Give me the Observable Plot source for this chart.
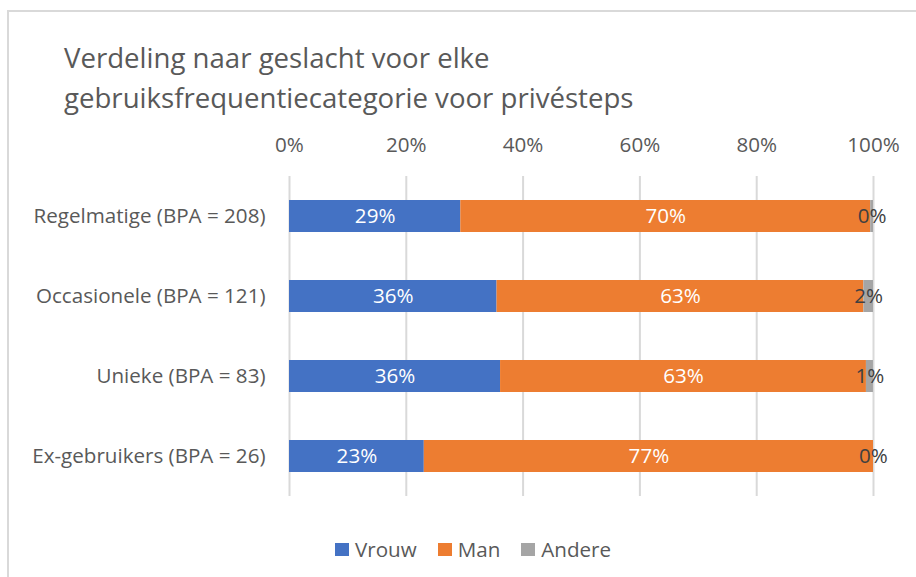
<!DOCTYPE html>
<html><head><meta charset="utf-8">
<script src="https://cdn.jsdelivr.net/npm/d3@7"></script>
<script src="https://cdn.jsdelivr.net/npm/@observablehq/plot@0.6"></script>
<style>
html,body{margin:0;padding:0;background:#fff;width:916px;height:577px;overflow:hidden;font-family:"Open Sans",sans-serif;}
#frame{position:absolute;left:7px;top:10px;width:1000px;height:1000px;border-left:2px solid #d9d9d9;border-top:2px solid #d9d9d9;box-sizing:border-box}
#title{position:absolute;left:64px;top:37px;font-size:27.6px;line-height:40px;color:#595959;white-space:nowrap}
#chart{position:absolute;left:0;top:120px;}
#legend{position:absolute;left:335px;top:535px;display:flex;align-items:center;font-size:20.6px;color:#595959;line-height:28px}
.item{display:flex;align-items:center;margin-right:21px}
.sw{width:14px;height:13px;margin-right:6px}
</style></head><body>
<div id="frame"></div>
<div id="title">Verdeling naar geslacht voor elke<br>gebruiksfrequentiecategorie voor privésteps</div>
<div id="chart"></div>
<div id="legend"></div>
<script>
const categories = ["Regelmatige (BPA = 208)", "Occasionele (BPA = 121)", "Unieke (BPA = 83)", "Ex-gebruikers (BPA = 26)"];
const series = ["Vrouw", "Man", "Andere"];
const colors = ["#4472C4", "#ED7D31", "#A5A5A5"];
const vrouw = [29.33, 35.54, 36.14, 23.08];
const man = [70.19, 62.81, 62.65, 76.92];
const andere = [0.48, 1.65, 1.20, 0];
const xTicks = [0, 20, 40, 60, 80, 100];

const seriesValues = [vrouw, man, andere];
const rows = [];
categories.forEach((c, i) => {
  series.forEach((s, j) => rows.push({category: c, series: s, value: seriesValues[j][i]}));
});
const fmt = d => Math.round(d.value) + "%";

const plot = Plot.plot({
  width: 916, height: 390,
  marginTop: 56, marginBottom: 14, marginLeft: 289, marginRight: 43,
  style: {fontFamily: "Open Sans", fontSize: "20.6px", color: "#595959", background: "transparent"},
  x: {domain: [0, 100], label: null},
  y: {domain: categories, paddingInner: 0.6, paddingOuter: 0.3, label: null},
  color: {domain: series, range: colors},
  marks: [
    Plot.gridX(xTicks, {stroke: "#d9d9d9", strokeOpacity: 1, strokeWidth: 2}),
    Plot.barX(rows, Plot.stackX({x: "value", y: "category", fill: "series", z: "series"})),
    Plot.text(rows, Plot.stackX({x: "value", y: "category", z: "series",
      text: d => d.series === "Andere" ? "" : fmt(d), fill: "white", fontSize: 20.6})),
    Plot.text(rows, Plot.stackX({x: "value", y: "category", z: "series",
      text: d => d.series === "Andere" ? fmt(d) : "", fill: "#404040", fontSize: 20.6})),
    Plot.axisX(xTicks, {anchor: "top", tickSize: 0, tickPadding: 25, label: null, tickFormat: d => d + "%", fill: "#595959", fontSize: 20.6}),
    Plot.axisY({anchor: "left", tickSize: 0, tickPadding: 24, label: null, fill: "#595959", fontSize: 20.6})
  ]
});
document.getElementById("chart").appendChild(plot);

const legend = document.getElementById("legend");
series.forEach((s, i) => {
  const item = document.createElement("div");
  item.className = "item";
  const sw = document.createElement("span");
  sw.className = "sw";
  sw.style.background = colors[i];
  const t = document.createElement("span");
  t.textContent = s;
  item.appendChild(sw); item.appendChild(t);
  legend.appendChild(item);
});
</script>
</body></html>
